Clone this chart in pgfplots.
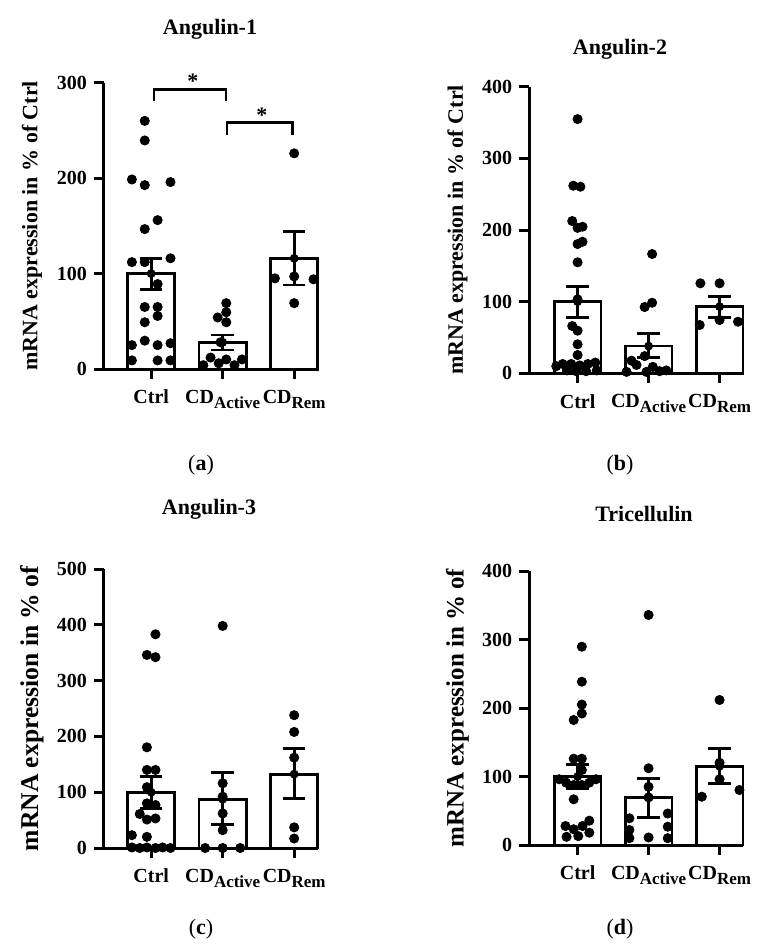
\documentclass[border=0pt]{standalone}
\usepackage{fontspec}
\setmainfont{Liberation Serif}
\usepackage{pgfplots}
\pgfplotsset{compat=1.18}
\newcommand{\sub}[1]{\raisebox{-2.5pt}{\fontsize{8.5}{10}\selectfont #1}}
\pgfplotsset{
  panel/.style={
    scale only axis, anchor=south west, clip=false,
    axis lines*=left,
    axis line style={line width=1.5pt, black, shorten <=-0.75pt},
    every tick/.style={line width=1.5pt, black},
    major tick length=5pt,
    tick align=outside,
    ymin=0,
    xtick={0,1,2},
    xticklabels={Ctrl, CD\sub{Active}, CD\sub{Rem}},
    xticklabel style={font=\bfseries\fontsize{10}{12}\selectfont, anchor=north, yshift=-2pt},
    yticklabel style={font=\bfseries\fontsize{10}{12}\selectfont},
    /pgf/number format/assume math mode=true,
    every axis y label/.style={rotate=90, anchor=center, font=\bfseries\fontsize{11}{13}\selectfont,
      at={(axis description cs:-0.336,0.5)}},
  },
  bars/.style={ybar, bar width=0.66, fill=white, draw=black, line width=1.4pt},
  errs/.style={only marks, mark=none, black, forget plot,
    error bars/.cd, y dir=both, y explicit,
    error bar style={line width=1.4pt, black},
    error mark options={rotate=90, mark size=5.6pt, line width=1.4pt, black}},
  pts/.style={only marks, mark=*, mark size=2.3pt, black},
}
\begin{document}
\begin{tikzpicture}
\useasboundingbox (0,0) rectangle (390.5pt,-474.5pt);
% ---------- (a)
\begin{axis}[panel, at={(52pt,-184.5pt)}, width=107.25pt, height=143.15pt,
  xmin=-0.66, xmax=2.34, ymax=300, ytick={0,100,200,300},
  ylabel={mRNA expression in \% of Ctrl}]
\addplot[bars] coordinates {(0,100) (1,28) (2,116)};
\addplot[errs] coordinates {(0,100) += (0,16) -= (0,16.4) (1,28) += (0,7.7) -= (0,8) (2,116) += (0,28) -= (0,28)};
\addplot[pts] coordinates {(-0.09,260) (-0.09,239.5) (-0.27,198.6) (-0.09,192.7) (0.27,195.9) (0.09,156) (-0.09,146.6) (-0.27,112) (-0.09,112) (0.27,116) (0.09,89) (-0.09,65) (0.09,65) (0.09,55.6) (-0.09,49) (-0.09,29.7) (-0.27,25) (0.09,25) (0.27,27) (-0.27,9) (0.09,9) (0.27,9)};
\addplot[pts] coordinates {(1.05,69) (0.93,54) (1.05,59.5) (1.05,49) (0.83,12) (1.05,10) (0.945,6) (0.73,4) (1.165,4) (1.27,10) (0.97,28)};
\addplot[pts] coordinates {(1.73,95) (2,97) (2.27,94) (2,226) (2,69)};
\addplot[black, line width=1.4pt] coordinates {(0.04,281) (0.04,292.7) (1.045,292.7) (1.045,281)};
\addplot[black, line width=1.4pt] coordinates {(1.06,245.5) (1.06,258) (1.975,258) (1.975,245.5)};
\node[font=\bfseries\fontsize{11}{13}\selectfont] at (axis cs:0.583,301.5) {*};
\node[font=\bfseries\fontsize{11}{13}\selectfont] at (axis cs:1.548,265.5) {*};
\end{axis}
% ---------- (b)
\begin{axis}[panel, at={(264.65pt,-186.65pt)}, width=106.85pt, height=143.3pt,
  xmin=-0.68, xmax=2.33, ymax=400, ytick={0,100,200,300,400},
  ylabel={mRNA expression in \% of Ctrl}]
\addplot[bars] coordinates {(0,100) (1,38) (2,93)};
\addplot[errs] coordinates {(0,100) += (0,21) -= (0,22.4) (1,38) += (0,18) -= (0,16) (2,93) += (0,14) -= (0,15)};
\addplot[pts] coordinates {(0,354.8) (-0.06,261.8) (0.04,260.4) (-0.075,212.5) (0,203) (0.07,204.6) (0,180.4) (0.07,183.6) (0,154.9) (0,103.2) (-0.075,66) (0,59.5) (0,40.5) (0,25.5) (-0.3,10) (-0.21,13) (-0.09,13) (0.03,11) (0.145,13) (0.25,15) (0.27,4) (-0.02,3) (-0.15,4) (0.12,3)};
\addplot[pts] coordinates {(1.05,166.5) (0.945,92.5) (1.05,98.5) (0.945,24) (0.76,17.6) (0.83,11.6) (1.06,9) (0.69,2) (0.97,2) (1.155,3) (1.25,4)};
\addplot[pts] coordinates {(1.73,125.6) (2,125.6) (1.72,67.4) (2,74.4) (2.26,72)};
\end{axis}
% ---------- (c)
\begin{axis}[panel, at={(52pt,-424pt)}, width=107.25pt, height=139.5pt,
  xmin=-0.66, xmax=2.34, ymax=500, ytick={0,100,200,300,400,500},
  ylabel={mRNA expression in \% of},
  ylabel style={font=\bfseries\fontsize{12.8}{15}\selectfont}]
\addplot[bars] coordinates {(0,100) (1,87.5) (2,132.4)};
\addplot[errs] coordinates {(0,100) += (0,28) -= (0,29) (1,87.5) += (0,47.5) -= (0,46) (2,132.4) += (0,46) -= (0,44)};
\addplot[pts] coordinates {(0.06,383) (-0.06,346) (0.06,342) (-0.06,180.5) (-0.06,140) (0.06,140) (-0.06,109) (-0.06,80) (0.06,77) (-0.16,61) (-0.06,51) (0.06,53) (-0.27,23) (-0.06,20) (-0.27,1) (-0.16,0) (-0.06,1) (0.06,0) (0.16,1) (0.27,0)};
\addplot[pts] coordinates {(1,398) (1,116) (1,92) (1,62) (1,32) (0.755,0) (1,0) (1.245,0)};
\addplot[pts] coordinates {(2,238) (2,208) (2,162) (2,37) (2,17)};
\end{axis}
% ---------- (d)
\begin{axis}[panel, at={(264.65pt,-422.5pt)}, width=106.85pt, height=137pt,
  xmin=-0.68, xmax=2.33, ymax=400, ytick={0,100,200,300,400},
  ylabel={mRNA expression in \% of},
  ylabel style={font=\bfseries\fontsize{12.5}{15}\selectfont}]
\addplot[bars] coordinates {(0,100) (1,69) (2,115)};
\addplot[errs] coordinates {(0,100) += (0,18) -= (0,18) (1,69) += (0,28) -= (0,29) (2,115) += (0,26) -= (0,25)};
\addplot[pts] coordinates {(0.06,289.5) (0.06,238.4) (0.06,205) (0.06,192) (-0.055,182.5) (-0.055,126) (0.06,126) (0.06,109.5) (-0.26,96) (-0.16,91) (-0.055,87.6) (0.06,87.6) (0.165,91) (0.26,96) (-0.055,66.7) (-0.17,27.7) (-0.055,23) (0.07,27.7) (0.165,35.5) (-0.155,12) (0.01,13) (0.165,18)};
\addplot[pts] coordinates {(1,335.8) (1,112) (1,85) (1,69.6) (0.73,39) (1.27,46) (0.73,22) (1.27,26.7) (0.73,10) (1,11) (1.27,10)};
\addplot[pts] coordinates {(2,211.7) (2,120) (2,96) (1.75,70.5) (2.28,80.3)};
\end{axis}
% ---------- titles and panel letters
\node[font=\bfseries\fontsize{11}{13}\selectfont] at (105pt,-14.5pt) {Angulin-1};
\node[font=\bfseries\fontsize{11}{13}\selectfont] at (310pt,-24.5pt) {Angulin-2};
\node[font=\bfseries\fontsize{11}{13}\selectfont] at (104.5pt,-254.5pt) {Angulin-3};
\node[font=\bfseries\fontsize{11}{13}\selectfont] at (322pt,-257pt) {Tricellulin};
\node[font=\fontsize{11}{13}\selectfont] at (100.5pt,-232.5pt) {(\textbf{a})};
\node[font=\fontsize{11}{13}\selectfont] at (310pt,-232.5pt) {(\textbf{b})};
\node[font=\fontsize{11}{13}\selectfont] at (100.5pt,-464.5pt) {(\textbf{c})};
\node[font=\fontsize{11}{13}\selectfont] at (310pt,-464.5pt) {(\textbf{d})};
\end{tikzpicture}
\end{document}
